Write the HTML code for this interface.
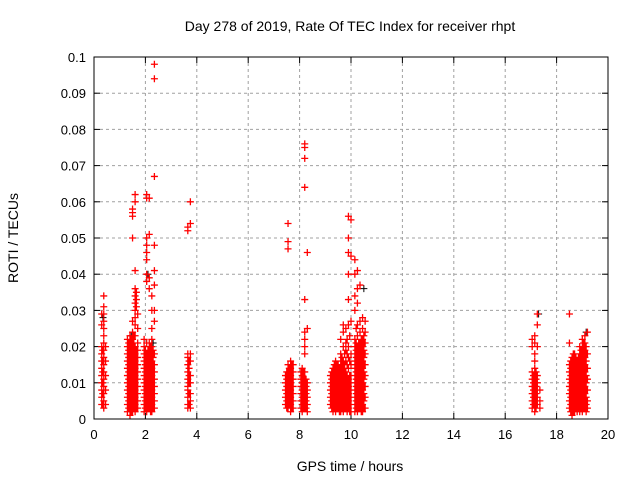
<!DOCTYPE html>
<html><head><meta charset="utf-8"><style>
body{margin:0;background:#fff}
svg{display:block;font-family:"Liberation Sans",sans-serif}
</style></head><body>
<svg id="chart" width="640" height="480" viewBox="0 0 640 480">
<rect width="640" height="480" fill="#fff"/>
<text x="350" y="31" font-size="14" text-anchor="middle">Day 278 of 2019, Rate Of TEC Index for receiver rhpt</text>
<text x="350" y="471" font-size="14" text-anchor="middle">GPS time / hours</text>
<text transform="translate(18,238) rotate(-90)" font-size="14" text-anchor="middle">ROTI / TECUs</text>
<g id="grid"></g>
<g id="ticks"></g>
<g id="marks"></g>
<rect x="94" y="57" width="514" height="362" fill="none" stroke="#000" stroke-width="1"/>
</svg>
<script>
const xTicks=[0,2,4,6,8,10,12,14,16,18,20];
const yTicks=[0,0.01,0.02,0.03,0.04,0.05,0.06,0.07,0.08,0.09,0.1];
const yTickLabels=["0","0.01","0.02","0.03","0.04","0.05","0.06","0.07","0.08","0.09","0.1"];
const redColumns=[
[0.30,[.004,.006,.008,.010,.012,.014,.016,.018,.020,.026,.029]],
[0.38,[.003,.005,.007,.009,.011,.013,.015,.017,.019,.021,.023,.025,.027,.029,.031,.034]],
[0.34,[.004,.007,.010,.013,.016,.019]],
[0.45,[.004,.008,.012,.016,.020]],
[1.30,[.002,.004,.006,.008,.010,.012,.014,.016,.018,.020,.022]],
[1.35,[.003,.005,.007,.009,.011,.013,.015,.017,.019,.021]],
[1.40,[.001,.003,.005,.007,.009,.011,.013,.015,.017,.019,.021,.023]],
[1.45,[.002,.004,.006,.008,.010,.012,.014,.016,.018,.020,.022]],
[1.50,[.002,.004,.006,.008,.010,.012,.014,.016,.018,.020,.022,.024,.027,.050,.056,.057,.058]],
[1.55,[.003,.005,.007,.009,.011,.013,.015,.017,.019,.021,.023]],
[1.60,[.002,.004,.006,.008,.010,.012,.014,.016,.018,.020,.023,.026,.028,.030,.032,.034,.036,.041,.060,.062]],
[1.65,[.003,.005,.007,.009,.011,.013,.015,.017,.019,.031,.033,.035]],
[1.70,[.003,.005,.007,.009,.011,.013,.015,.017,.019,.021,.025,.029]],
[1.95,[.002,.004,.006,.008,.010,.012,.014,.016,.018,.020,.022]],
[2.00,[.003,.005,.007,.009,.011,.013,.015,.017,.019]],
[2.05,[.002,.004,.006,.008,.010,.012,.014,.016,.018,.021,.038,.040,.044,.046,.048,.050,.061,.062]],
[2.10,[.003,.005,.007,.009,.011,.013,.015,.017,.019]],
[2.15,[.003,.005,.007,.009,.011,.013,.015,.017,.019,.021,.036,.039,.051,.061]],
[2.20,[.002,.004,.006,.008,.010,.012,.014,.016,.018,.020]],
[2.25,[.002,.004,.006,.008,.010,.012,.014,.016,.018,.020,.022,.025,.030,.034]],
[2.30,[.003,.005,.007,.009,.011,.013,.015,.017,.019]],
[2.35,[.003,.005,.007,.009,.011,.013,.015,.018,.027,.030,.037,.041,.048,.067,.094,.098]],
[3.65,[.003,.004,.006,.008,.009,.011,.013,.015,.017,.018,.052,.053]],
[3.70,[.004,.007,.010,.012,.014,.016]],
[3.75,[.003,.005,.007,.010,.012,.016,.018,.054,.060]],
[7.45,[.004,.006,.008,.010,.012]],
[7.50,[.003,.005,.007,.009,.011,.013]],
[7.55,[.003,.005,.007,.009,.011,.013,.015,.047,.049,.054]],
[7.60,[.004,.006,.008,.010,.012,.014]],
[7.65,[.002,.004,.006,.008,.010,.012,.014,.016]],
[7.70,[.003,.005,.007,.009,.011,.013,.015]],
[7.75,[.003,.005,.007,.009,.011,.013,.015]],
[8.05,[.003,.005,.007,.009,.011,.013]],
[8.10,[.002,.004,.006,.008,.010,.012,.014]],
[8.15,[.003,.005,.007,.009,.011,.013]],
[8.20,[.003,.005,.007,.009,.011,.013,.018,.020,.022,.024,.033,.064,.072,.075,.076]],
[8.25,[.003,.005,.007,.009,.011]],
[8.30,[.002,.004,.006,.008,.010,.025,.046]],
[9.2,[.004,.006,.008,.010,.012]],
[9.25,[.003,.005,.007,.009,.011,.013]],
[9.3,[.002,.004,.006,.008,.010,.012,.014]],
[9.35,[.003,.005,.007,.009,.011,.013,.015]],
[9.4,[.002,.004,.006,.008,.010,.012,.014,.016]],
[9.45,[.003,.005,.007,.009,.011,.013,.015]],
[9.5,[.003,.005,.007,.009,.011,.013,.015]],
[9.55,[.002,.004,.006,.008,.010,.012,.014]],
[9.6,[.002,.004,.006,.008,.010,.012,.014,.016,.018,.022]],
[9.65,[.003,.005,.007,.009,.011,.013,.015,.017]],
[9.7,[.002,.004,.006,.008,.010,.012,.014,.016,.020,.024,.026]],
[9.75,[.003,.005,.007,.009,.011,.013,.015,.018]],
[9.8,[.003,.005,.007,.009,.011,.013,.016,.019,.021,.025]],
[9.85,[.002,.004,.006,.008,.010,.012,.015,.018,.022]],
[9.9,[.003,.005,.007,.009,.011,.014,.017,.020,.026,.033,.040,.046,.050,.056]],
[9.95,[.002,.004,.006,.008,.010,.012,.016,.023]],
[10.0,[.002,.004,.006,.008,.010,.012,.015,.018,.027,.045,.055]],
[10.15,[.002,.004,.006,.008,.010,.012,.014,.016,.018,.020,.022,.030,.034,.040,.044]],
[10.20,[.003,.005,.007,.009,.011,.013,.015,.017,.019,.021,.025]],
[10.25,[.002,.004,.006,.008,.010,.012,.014,.016,.018,.020,.023,.026,.032,.036,.041]],
[10.30,[.003,.005,.007,.009,.011,.013,.015,.017,.019,.021]],
[10.35,[.003,.005,.007,.009,.011,.013,.015,.017,.019,.021,.024,.027,.037]],
[10.40,[.002,.004,.006,.008,.010,.012,.014,.016,.018,.020,.022]],
[10.45,[.002,.004,.006,.008,.010,.012,.014,.016,.018,.020,.022,.025,.028]],
[10.50,[.003,.005,.007,.009,.011,.013,.015,.017,.019,.021,.023]],
[10.55,[.003,.006,.009,.012,.015,.018,.021,.024,.027]],
[17.05,[.003,.005,.007,.009,.011,.013,.020,.022]],
[17.10,[.004,.006,.008,.010,.012]],
[17.15,[.002,.004,.006,.008,.010,.012,.014,.016,.018,.021,.023]],
[17.20,[.003,.005,.007,.009,.011,.013]],
[17.25,[.004,.006,.008,.010,.012,.020,.026,.029]],
[17.35,[.003,.005,.008]],
[18.5,[.003,.005,.007,.009,.011,.013,.015,.021,.029]],
[18.55,[.002,.004,.006,.008,.010,.012,.014,.016]],
[18.6,[.001,.003,.005,.007,.009,.011,.013,.015,.017]],
[18.65,[.002,.004,.006,.008,.010,.012,.014,.016,.018]],
[18.7,[.002,.004,.006,.008,.010,.012,.014,.016,.018]],
[18.75,[.003,.005,.007,.009,.011,.013,.015,.017]],
[18.8,[.002,.004,.006,.008,.010,.012,.014,.016]],
[18.85,[.003,.005,.007,.009,.011,.013,.015,.017]],
[18.9,[.002,.004,.006,.008,.010,.012,.014,.016,.018,.020]],
[18.95,[.003,.005,.007,.009,.011,.013,.015,.017,.019]],
[19.0,[.002,.004,.006,.008,.010,.012,.014,.016,.018,.020,.022]],
[19.05,[.003,.005,.007,.009,.011,.013,.015,.017,.019,.021]],
[19.1,[.003,.005,.007,.009,.011,.013,.015,.017,.019,.021,.023]],
[19.15,[.002,.004,.006,.008,.010,.012,.014,.016,.018,.020]],
[19.2,[.003,.005,.008,.011,.014,.018,.024]]
];
const blackX=[0.35,1.45,2.10,9.35,10.50,17.30,19.15,2.30];
const blackY=[0.028,0.023,0.040,0.004,0.036,0.029,0.024,0.021];

const L=94,R=608,T=57,B=419;
const xs=v=>L+(v-0)/(20-0)*(R-L);
const ys=v=>B-(v-0)/(0.1-0)*(B-T);
const NS="http://www.w3.org/2000/svg";
function mk(tag,attrs,parent){const e=document.createElementNS(NS,tag);for(const k in attrs)e.setAttribute(k,attrs[k]);parent.appendChild(e);return e;}
const grid=document.getElementById('grid'),ticks=document.getElementById('ticks'),marks=document.getElementById('marks');
xTicks.forEach((t,i)=>{
  const x=xs(t);
  if(i>0&&i<xTicks.length-1){
    const g=mk('line',{x1:x,x2:x,y1:T,y2:B,stroke:'#a0a0a0','stroke-dasharray':'3,3'},grid);
    
    
  }
  mk('line',{x1:x,x2:x,y1:B,y2:B-6,stroke:'#000'},ticks);
  mk('line',{x1:x,x2:x,y1:T,y2:T+6,stroke:'#000'},ticks);
  const tx=mk('text',{x:x,y:B+20,'font-size':13,'text-anchor':'middle'},ticks);
  tx.textContent=t;
  
  
});
yTicks.forEach((t,i)=>{
  const y=ys(t);
  if(i>0&&i<yTicks.length-1){
    const g=mk('line',{x1:L,x2:R,y1:y,y2:y,stroke:'#a0a0a0','stroke-dasharray':'3,3'},grid);
    
    
  }
  mk('line',{x1:L,x2:L+6,y1:y,y2:y,stroke:'#000'},ticks);
  mk('line',{x1:R,x2:R-6,y1:y,y2:y,stroke:'#000'},ticks);
  const tx=mk('text',{x:L-8,y:y+5,'font-size':13,'text-anchor':'end'},ticks);
  tx.textContent=yTickLabels[i];
  
  
});
function plus(x,y){return 'M'+(x-3.5)+' '+y+'h7M'+x+' '+(y-3.5)+'v7';}
let dk='';
blackX.forEach((v,i)=>{dk+=plus(xs(v),ys(blackY[i]));});
const pb=mk('path',{d:dk,stroke:'#000','stroke-width':1,fill:'none'},marks);


let dr='';
redColumns.forEach(c=>{c[1].forEach(v=>{dr+=plus(xs(c[0]),ys(v));});});
const pr=mk('path',{d:dr,stroke:'#ff0000','stroke-width':1.3,fill:'none'},marks);


</script>
</body></html>
